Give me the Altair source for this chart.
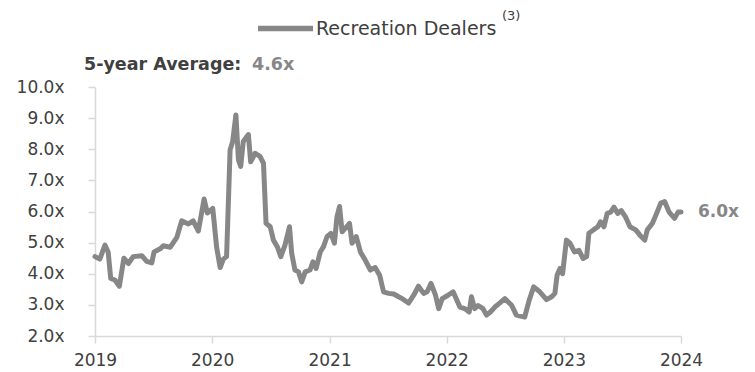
import altair as alt
import pandas as pd

# ---- data ----
dates = [
    "2019-01-01", "2019-01-16", "2019-02-01", "2019-02-11", "2019-02-19", "2019-03-04",
    "2019-03-18", "2019-04-01", "2019-04-15", "2019-04-30", "2019-05-27", "2019-06-11",
    "2019-06-27", "2019-07-04", "2019-07-23", "2019-08-02", "2019-08-23", "2019-09-13",
    "2019-09-28", "2019-10-19", "2019-11-03", "2019-11-19", "2019-12-07", "2019-12-17",
    "2020-01-03", "2020-01-15", "2020-01-26", "2020-02-05", "2020-02-15", "2020-02-26",
    "2020-03-05", "2020-03-15", "2020-03-23", "2020-03-30", "2020-04-07", "2020-04-23",
    "2020-04-30", "2020-05-14", "2020-05-29", "2020-06-09", "2020-06-17", "2020-06-30",
    "2020-07-10", "2020-07-22", "2020-08-02", "2020-08-15", "2020-08-29", "2020-09-05",
    "2020-09-15", "2020-09-26", "2020-10-06", "2020-10-17", "2020-11-01", "2020-11-10",
    "2020-11-20", "2020-12-03", "2020-12-13", "2020-12-24",
    "2021-01-05", "2021-01-16", "2021-01-24", "2021-02-01", "2021-02-09", "2021-02-19",
    "2021-03-04", "2021-03-12", "2021-03-25", "2021-04-07", "2021-04-22", "2021-05-08",
    "2021-05-23", "2021-06-06", "2021-06-18", "2021-07-04", "2021-07-20", "2021-08-04",
    "2021-08-15", "2021-09-04", "2021-09-20", "2021-10-05", "2021-10-21", "2021-11-01",
    "2021-11-13", "2021-11-27", "2021-12-07", "2021-12-18",
    "2022-01-05", "2022-01-21", "2022-02-11", "2022-02-26", "2022-03-12", "2022-03-19",
    "2022-03-29", "2022-04-09", "2022-04-24", "2022-05-05", "2022-05-17", "2022-05-31",
    "2022-06-13", "2022-07-01", "2022-07-22", "2022-08-06", "2022-08-22", "2022-09-01",
    "2022-09-15", "2022-09-29", "2022-10-18", "2022-11-08", "2022-11-24", "2022-12-04",
    "2022-12-11", "2022-12-20", "2022-12-28",
    "2023-01-09", "2023-01-20", "2023-02-03", "2023-02-17", "2023-03-02", "2023-03-13",
    "2023-03-20", "2023-04-03", "2023-04-17", "2023-04-25", "2023-05-06", "2023-05-16",
    "2023-05-27", "2023-06-06", "2023-06-18", "2023-06-29", "2023-07-12", "2023-07-26",
    "2023-08-13", "2023-08-26", "2023-09-10", "2023-09-18", "2023-10-04", "2023-10-17",
    "2023-10-30", "2023-11-11", "2023-11-25", "2023-12-12", "2023-12-23", "2024-01-01",
]
values = [
    4.55, 4.47, 4.92, 4.70, 3.85, 3.80,
    3.60, 4.50, 4.33, 4.55, 4.58, 4.40,
    4.35, 4.70, 4.80, 4.90, 4.85, 5.17,
    5.70, 5.60, 5.70, 5.37, 6.40, 5.95,
    6.10, 4.85, 4.20, 4.47, 4.55, 7.98,
    8.25, 9.10, 7.66, 7.45, 8.25, 8.47,
    7.60, 7.87, 7.77, 7.55, 5.62, 5.51,
    5.08, 4.87, 4.55, 4.92, 5.51, 4.65,
    4.12, 4.06, 3.74, 4.06, 4.12, 4.38,
    4.17, 4.70, 4.87, 5.19,
    5.30, 4.98, 5.83, 6.16, 5.35, 5.46,
    5.62, 4.98, 5.19, 4.70, 4.44, 4.12,
    4.20, 3.95, 3.42, 3.37, 3.35, 3.26,
    3.20, 3.06, 3.31, 3.60, 3.37, 3.42,
    3.69, 3.31, 2.88, 3.20,
    3.31, 3.42, 2.93, 2.88, 2.77, 3.26,
    2.88, 2.98, 2.88, 2.67, 2.77, 2.93,
    3.04, 3.20, 2.99, 2.67, 2.63, 2.61,
    3.15, 3.58, 3.42, 3.17, 3.26, 3.37,
    3.96, 4.17, 4.00,
    5.08, 4.98, 4.70, 4.75, 4.49, 4.55,
    5.30, 5.41, 5.51, 5.67, 5.51, 5.94,
    5.98, 6.14, 5.94, 6.03, 5.83, 5.51,
    5.41, 5.24, 5.08, 5.41, 5.62, 5.94,
    6.27, 6.32, 5.98, 5.78, 5.98, 5.98,
]
series_name = "Recreation Dealers"
footnote = "(3)"
avg_label = "5-year Average:"
avg_value = 4.6
y_ticks = [2, 3, 4, 5, 6, 7, 8, 9, 10]
x_years = [2019, 2020, 2021, 2022, 2023, 2024]

df = pd.DataFrame({"date": dates, "value": values, "series": series_name})
last = df.iloc[[-1]]

FONT = "DejaVu Sans"
TEXT = "#404040"
LINE = "#878787"
AXIS = "#d9d9d9"

x_enc = alt.X(
    "date:T",
    scale=alt.Scale(
        type="utc",
        domain=[alt.DateTime(year=x_years[0], month=1, date=1, utc=True),
                alt.DateTime(year=x_years[-1], month=1, date=1, utc=True)],
    ),
    axis=alt.Axis(
        values=[alt.DateTime(year=yr, month=1, date=1, utc=True) for yr in x_years],
        format="%Y", formatType="utc", title=None, grid=False,
        domainColor=AXIS, domainWidth=1.5, tickColor=AXIS, tickWidth=1.5,
        tickSize=7, labelPadding=9, labelFont=FONT, labelFontSize=17,
        labelColor=TEXT, labelFlush=False, labelOverlap=False,
    ),
)
y_enc = alt.Y(
    "value:Q",
    scale=alt.Scale(domain=[y_ticks[0], y_ticks[-1]], nice=False, zero=False),
    axis=alt.Axis(
        values=y_ticks, tickCount=len(y_ticks),
        labelExpr="format(datum.value, '.1f') + 'x'",
        title=None, grid=False, domainColor=AXIS, domainWidth=1.5,
        tickColor=AXIS, tickWidth=1.5, tickSize=7, labelPadding=24,
        labelFont=FONT, labelFontSize=17, labelColor=TEXT, labelFlush=False,
        labelOverlap=False,
    ),
)

line = alt.Chart(df).mark_line(
    strokeWidth=5, strokeJoin="round", strokeCap="round"
).encode(
    x=x_enc,
    y=y_enc,
    color=alt.Color(
        "series:N",
        scale=alt.Scale(range=[LINE]),
        legend=alt.Legend(
            orient="none", legendX=160, legendY=-89, title=None,
            symbolType="stroke", symbolSize=3025, symbolStrokeWidth=5.5,
            labelFont=FONT, labelFontSize=19, labelColor=TEXT, labelLimit=0,
            labelOffset=0, padding=0, direction="horizontal",
        ),
    ),
)

end_label = alt.Chart(last).transform_calculate(
    label="format(datum.value, '.1f') + 'x'"
).mark_text(
    align="left", baseline="middle", dx=17, font=FONT, fontSize=17,
    fontWeight="bold", color=LINE,
).encode(x=x_enc, y=y_enc, text="label:N")

one = pd.DataFrame({"avg": [avg_value], "label": [avg_label], "note": [footnote]})

avg_text = alt.Chart(one).mark_text(
    align="left", baseline="alphabetic", font=FONT, fontSize=17.5,
    fontWeight="bold", color=TEXT,
).encode(x=alt.value(-11), y=alt.value(-17), text="label:N")

avg_num = alt.Chart(one).transform_calculate(
    txt="format(datum.avg, '.1f') + 'x'"
).mark_text(
    align="left", baseline="alphabetic", font=FONT, fontSize=17.5,
    fontWeight="bold", color=LINE,
).encode(x=alt.value(157), y=alt.value(-17), text="txt:N")

note_text = alt.Chart(one).mark_text(
    align="left", baseline="alphabetic", font=FONT, fontSize=13, color=TEXT,
).encode(x=alt.value(407), y=alt.value(-67), text="note:N")

chart = alt.layer(line, end_label, avg_text, avg_num, note_text).properties(
    width=586, height=249,
    padding={"left": 95, "top": 87, "right": 74, "bottom": 36},
    autosize=alt.AutoSizeParams(type="none"),
    background="white",
).configure_view(stroke=None)

chart.save("out.html", embed_options={"renderer": "svg", "actions": False})
